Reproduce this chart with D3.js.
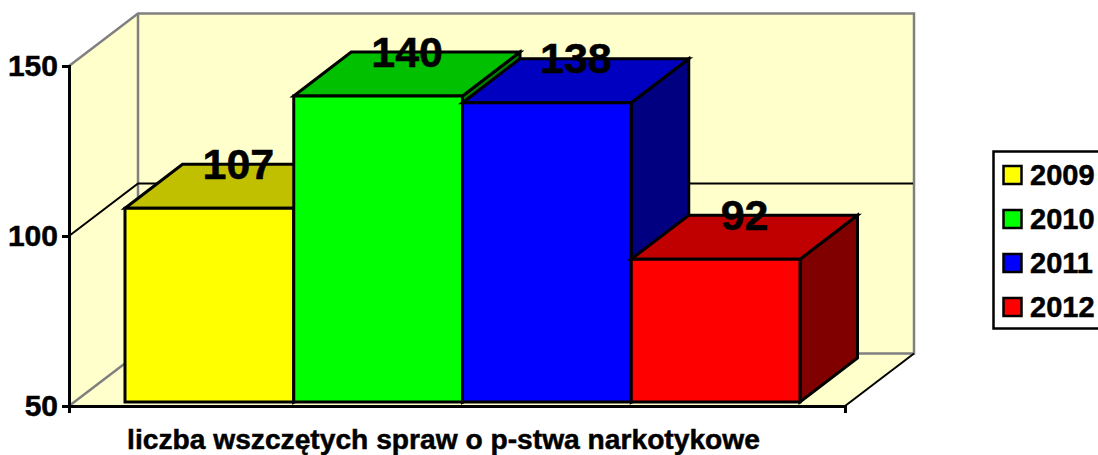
<!DOCTYPE html>
<html><head><meta charset="utf-8">
<script src="https://cdnjs.cloudflare.com/ajax/libs/d3/7.8.5/d3.min.js"></script>
<style>html,body{margin:0;padding:0;background:#fff;overflow:hidden}svg{display:block}
text{font-family:"Liberation Sans",Arial,sans-serif;font-weight:bold;fill:#000;stroke:#000;stroke-width:0.5px}</style></head>
<body><script>
const years = ["2009","2010","2011","2012"];
const values = [107,140,138,92];
const fronts = ["#FFFF00","#00FF00","#0000FF","#FF0000"];
const tops = ["#C0C000","#00C000","#0000C0","#C00000"];
const sides = ["#808000","#008000","#000080","#800000"];
const yTicks = [50,100,150];
const axisTitle = "liczba wszczętych spraw o p-stwa narkotykowe";

const W=1098,H=455;
const svg=d3.select("body").append("svg").attr("width",W).attr("height",H);
const y=d3.scaleLinear().domain([50,150]).range([406,66]);
const X0=69,X1=845,DX=69,DY=-52.5;
const poly=(pts,fill,stroke,sw)=>svg.append("polygon").attr("points",pts.map(p=>p.join(",")).join(" "))
  .attr("fill",fill).attr("stroke",stroke||"none").attr("stroke-width",sw||0).attr("stroke-linejoin","miter");
const line=(pts,stroke,sw)=>svg.append("polyline").attr("points",pts.map(p=>p.join(",")).join(" "))
  .attr("fill","none").attr("stroke",stroke).attr("stroke-width",sw);
const wall="#FFFFCC",gray="#808080";
// walls and floor
poly([[X0,y(50)],[X0,y(150)],[X0+DX,y(150)+DY],[X0+DX,y(50)+DY]],wall);
poly([[X0+DX,y(150)+DY],[X1+DX,y(150)+DY],[X1+DX,y(50)+DY],[X0+DX,y(50)+DY]],wall);
poly([[X0,y(50)],[X1,y(50)],[X1+DX,y(50)+DY],[X0+DX,y(50)+DY]],wall);
line([[X0,y(150)],[X0+DX,y(150)+DY],[X1+DX,y(150)+DY],[X1+DX,y(50)+DY],[X0+DX,y(50)+DY],[X0,y(50)]],gray,2.5);
line([[X0+DX,y(150)+DY],[X0+DX,y(50)+DY]],gray,2.5);
// gridline
yTicks.filter(t=>t>50&&t<150).forEach(t=>line([[X0,y(t)],[X0+DX,y(t)+DY],[X1+DX-1,y(t)+DY]],"#000",2));
line([[X1,y(50)],[X1+DX,y(50)+DY]],"#000",2);
// axes
const gy=svg.append("g").attr("transform",`translate(${X0},0)`).call(d3.axisLeft(y).tickValues(yTicks).tickSize(7).tickPadding(4));
gy.selectAll("path,line").attr("stroke","#000").attr("stroke-width",3);
gy.selectAll("text").attr("font-size",30).attr("font-family","Liberation Sans").attr("font-weight","bold").attr("fill","#000").attr("dy","0.31em");
const xa=d3.scalePoint().domain(["a","b"]).range([X0,X1]);
const gx=svg.append("g").attr("transform",`translate(0,${y(50)})`).call(d3.axisBottom(xa).tickSize(7).tickFormat(""));
gx.selectAll("path,line").attr("stroke","#000").attr("stroke-width",3);
// bars
const x=d3.scaleBand().domain(years).range([125,800]);
const yb=d3.scaleLinear().domain([50,150]).range([402,62]);
const dx=57.5,dy=-44;
years.forEach((yr,i)=>{
  const l=x(yr),r=l+x.bandwidth(),t=yb(values[i]),b=yb(50);
  poly([[r,t],[r+dx,t+dy],[r+dx,b+dy],[r,b]],sides[i],"#000",3);
  poly([[l,t],[l+dx,t+dy],[r+dx,t+dy],[r,t]],tops[i],"#000",3);
  poly([[l,b],[l,t],[r,t],[r,b]],fronts[i],"#000",3);
});
// data labels
years.forEach((yr,i)=>{
  svg.append("text").attr("x",x(yr)+x.bandwidth()/2+29).attr("y",yb(values[i])-29.5)
    .attr("text-anchor","middle").attr("font-size",43).text(values[i]);
});
// axis title
svg.append("text").attr("x",443.5).attr("y",448.5).attr("text-anchor","middle").attr("font-size",28.2).text(axisTitle);
// legend
svg.append("rect").attr("x",993.5).attr("y",151.5).attr("width",108).attr("height",177).attr("fill","#fff").attr("stroke","#000").attr("stroke-width",2.5);
const ly=d3.scalePoint().domain(years).range([175,307]);
years.forEach((yr,i)=>{
  svg.append("rect").attr("x",1003.5).attr("y",ly(yr)-9).attr("width",18).attr("height",18).attr("fill",fronts[i]).attr("stroke","#000").attr("stroke-width",2.5);
  svg.append("text").attr("x",1030).attr("y",ly(yr)+9.5).attr("font-size",29).text(yr);
});
</script></body></html>
